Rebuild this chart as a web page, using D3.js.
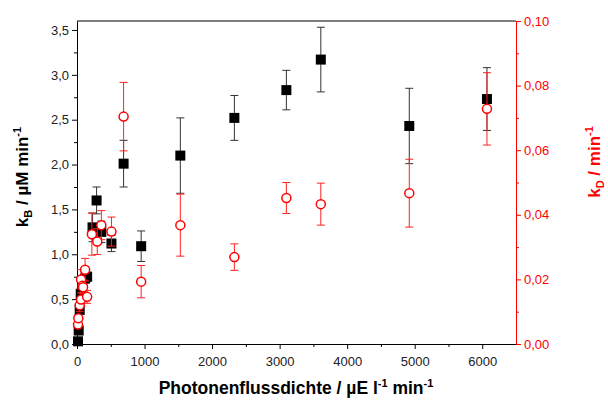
<!DOCTYPE html>
<html>
<head>
<meta charset="utf-8">
<script src="https://cdn.jsdelivr.net/npm/d3@7"></script>
<style>
  body { margin: 0; background: #fff; }
  text { font-family: "Liberation Sans", Arial, sans-serif; }
  .tick text { font-size: 13px; }
</style>
</head>
<body>
<div id="chart"></div>
<script>
var w = 608;
var h = 401;
var margin = {top: 21, right: 92, bottom: 57, left: 77};

// photon flux density (x), kB with error (left axis)
var xB   = [15, 25, 40, 55, 120, 150, 230, 290, 360, 510, 690, 950, 1530, 2330, 3100, 3610, 4920, 6070];
var kB   = [0.03, 0.15, 0.38, 0.56, 0.73, 0.75, 1.30, 1.60, 1.25, 1.12, 2.01, 1.09, 2.10, 2.52, 2.83, 3.17, 2.43, 2.73];
var kBerr = [0.01, 0.03, 0.04, 0.05, 0.05, 0.05, 0.16, 0.15, 0.12, 0.09, 0.26, 0.17, 0.42, 0.25, 0.22, 0.36, 0.42, 0.35];

// kD with error (right axis)
var xD   = [15, 20, 40, 60, 60, 80, 90, 120, 150, 220, 300, 360, 510, 690, 950, 1530, 2330, 3100, 3610, 4920, 6070];
var kD   = [0.006, 0.008, 0.012, 0.0138, 0.020, 0.018, 0.0176, 0.023, 0.0146, 0.034, 0.0317, 0.0368, 0.0348, 0.0704, 0.0193, 0.0368, 0.0269, 0.0452, 0.0433, 0.0467, 0.0728];
var kDerr = [0.001, 0.001, 0.002, 0.002, 0.003, 0.002, 0.002, 0.0035, 0.002, 0.0065, 0.004, 0.0045, 0.0045, 0.0106, 0.005, 0.0096, 0.0041, 0.0048, 0.0065, 0.0105, 0.0112];

var xTicks = [0, 1000, 2000, 3000, 4000, 5000, 6000];
var yLTicks = [0, 0.5, 1.0, 1.5, 2.0, 2.5, 3.0, 3.5];
var yRTicks = [0, 0.02, 0.04, 0.06, 0.08, 0.10];

var loc = d3.formatLocale({decimal: ",", thousands: "", grouping: [3], currency: ["", ""]});

function init(){
	var svg = d3.select("#chart").append("svg")
		.attr("width", w)
		.attr("height", h);

	var xScale = d3.scaleLinear().domain([0, 6500]).range([margin.left, w - margin.right]);
	var yL = d3.scaleLinear().domain([0, 3.6]).range([h - margin.bottom, margin.top]);
	var yR = d3.scaleLinear().domain([0, 0.1]).range([h - margin.bottom, margin.top]);

	// top frame line
	svg.append("line")
		.attr("x1", margin.left).attr("x2", w - margin.right)
		.attr("y1", margin.top).attr("y2", margin.top)
		.attr("stroke", "#000");

	// minor ticks
	var minorX = d3.range(500, 6500, 1000);
	svg.append("g").attr("transform", "translate(0," + (h - margin.bottom) + ")")
		.call(d3.axisBottom(xScale).tickValues(minorX).tickSize(3).tickFormat(""))
		.call(function(g){ g.select(".domain").remove(); });
	svg.append("g").attr("transform", "translate(" + margin.left + ",0)")
		.call(d3.axisLeft(yL).tickValues(d3.range(0.25, 3.6, 0.5)).tickSize(3).tickFormat(""))
		.call(function(g){ g.select(".domain").remove(); });
	svg.append("g").attr("transform", "translate(" + (w - margin.right) + ",0)")
		.call(d3.axisRight(yR).tickValues(d3.range(0.01, 0.1, 0.02)).tickSize(3).tickFormat(""))
		.call(function(g){ g.select(".domain").remove(); g.selectAll("line").attr("stroke", "red"); });

	// main axes
	var gx = svg.append("g").attr("transform", "translate(0," + (h - margin.bottom) + ")")
		.call(d3.axisBottom(xScale).tickValues(xTicks).tickSize(5).tickSizeOuter(0).tickFormat(d3.format("d")));
	gx.selectAll("text").attr("fill", "#222").attr("dy", "1.05em");

	var gl = svg.append("g").attr("transform", "translate(" + margin.left + ",0)")
		.call(d3.axisLeft(yL).tickValues(yLTicks).tickSize(5).tickSizeOuter(0).tickFormat(loc.format(".1f")));
	gl.selectAll("text").attr("fill", "#222");

	var gr = svg.append("g").attr("transform", "translate(" + (w - margin.right) + ",0)")
		.call(d3.axisRight(yR).tickValues(yRTicks).tickSize(5).tickSizeOuter(0).tickFormat(loc.format(".2f")));
	gr.select(".domain").attr("stroke", "red");
	gr.selectAll("line").attr("stroke", "red");
	gr.selectAll("text").attr("fill", "red");

	// kB error bars
	var eb = svg.append("g").attr("stroke", "#333").attr("stroke-width", 1);
	xB.forEach(function(x, i){
		var cx = xScale(x);
		eb.append("line").attr("x1", cx).attr("x2", cx).attr("y1", yL(kB[i] - kBerr[i])).attr("y2", yL(kB[i] + kBerr[i]));
		eb.append("line").attr("x1", cx - 4).attr("x2", cx + 4).attr("y1", yL(kB[i] - kBerr[i])).attr("y2", yL(kB[i] - kBerr[i]));
		eb.append("line").attr("x1", cx - 4).attr("x2", cx + 4).attr("y1", yL(kB[i] + kBerr[i])).attr("y2", yL(kB[i] + kBerr[i]));
	});
	svg.append("g").selectAll("rect").data(xB).join("rect")
		.attr("x", function(d){ return xScale(d) - 5; })
		.attr("y", function(d, i){ return yL(kB[i]) - 5; })
		.attr("width", 10).attr("height", 10)
		.attr("fill", "#000");

	// kD error bars
	var ed = svg.append("g").attr("stroke", "#f22").attr("stroke-width", 1);
	xD.forEach(function(x, i){
		var cx = xScale(x);
		ed.append("line").attr("x1", cx).attr("x2", cx).attr("y1", yR(kD[i] - kDerr[i])).attr("y2", yR(kD[i] + kDerr[i]));
		ed.append("line").attr("x1", cx - 4).attr("x2", cx + 4).attr("y1", yR(kD[i] - kDerr[i])).attr("y2", yR(kD[i] - kDerr[i]));
		ed.append("line").attr("x1", cx - 4).attr("x2", cx + 4).attr("y1", yR(kD[i] + kDerr[i])).attr("y2", yR(kD[i] + kDerr[i]));
	});
	svg.append("g").selectAll("circle").data(xD).join("circle")
		.attr("cx", function(d){ return xScale(d); })
		.attr("cy", function(d, i){ return yR(kD[i]); })
		.attr("r", 4.5)
		.attr("fill", "#fff")
		.attr("stroke", "red")
		.attr("stroke-width", 1.5);

	// axis titles
	var tx = svg.append("text")
		.attr("x", 296).attr("y", 394)
		.attr("text-anchor", "middle")
		.attr("font-size", "17.5px").attr("font-weight", "bold");
	tx.append("tspan").text("Photonenflussdichte / µE l");
	tx.append("tspan").attr("font-size", "11px").attr("dy", "-7").text("-1");
	tx.append("tspan").attr("dy", "7").text(" min");
	tx.append("tspan").attr("font-size", "11px").attr("dy", "-7").text("-1");

	var tl = svg.append("text")
		.attr("transform", "translate(28,177) rotate(-90)")
		.attr("text-anchor", "middle")
		.attr("font-size", "17px").attr("font-weight", "bold");
	tl.append("tspan").text("k");
	tl.append("tspan").attr("font-size", "11px").attr("dy", "4").text("B");
	tl.append("tspan").attr("dy", "-4").text(" / µM min");
	tl.append("tspan").attr("font-size", "11px").attr("dy", "-7").text("-1");

	var tr = svg.append("text")
		.attr("transform", "translate(600,162) rotate(-90)")
		.attr("text-anchor", "middle")
		.attr("fill", "red")
		.attr("font-size", "17px").attr("font-weight", "bold");
	tr.append("tspan").text("k");
	tr.append("tspan").attr("font-size", "11px").attr("dy", "4").text("D");
	tr.append("tspan").attr("dy", "-4").text(" / min");
	tr.append("tspan").attr("font-size", "11px").attr("dy", "-7").text("-1");
}

window.onload = init;
</script>
</body>
</html>
